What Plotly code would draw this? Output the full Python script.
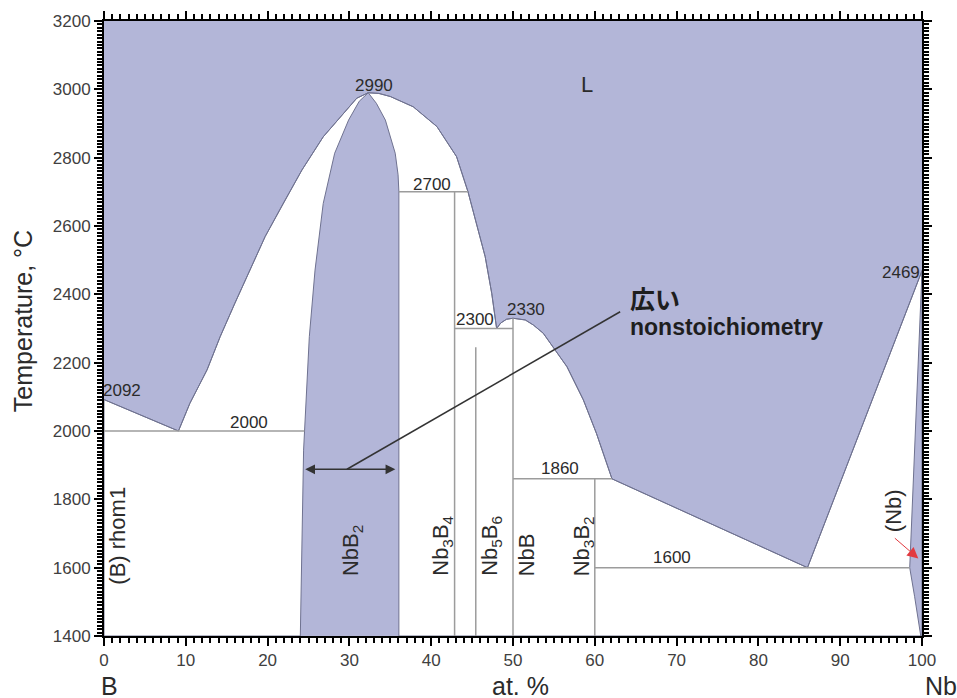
import plotly.graph_objects as go

# ---- B–Nb phase diagram data (composition in at.% Nb, temperature in °C) ----
# Liquidus, from pure B across both congruent maxima to pure Nb
liquidus_x = [0, 9.1, 10.5, 12.6, 14.2, 16.0, 19.7, 21.9, 24.2, 26.8, 29.3, 30.9, 32.3,
              33.6, 35.0, 37.8, 40.7, 43.1, 44.5, 45.6, 46.6, 47.4, 47.8, 48.0,
              48.5, 49.2, 50.0, 51.5, 52.5, 53.7, 56.6, 58.6, 60.2, 61.6, 62.1,
              86.0, 100]
liquidus_T = [2092, 2000, 2081, 2179, 2276, 2374, 2569, 2666, 2764, 2861, 2930, 2974, 2990,
              2988, 2979, 2949, 2891, 2803, 2700, 2598, 2510, 2403, 2325, 2300,
              2316, 2327, 2330, 2325, 2310, 2286, 2188, 2091, 1993, 1896, 1860,
              1600, 2469]

# NbB2 homogeneity range (B-rich side, then Nb-rich side)
nbb2_left_x = [24.0, 24.2, 24.4, 25.1, 25.8, 26.8, 28.2, 29.9, 31.2, 32.3]
nbb2_left_T = [1400, 1700, 1944, 2276, 2471, 2666, 2813, 2910, 2965, 2990]
nbb2_right_x = [32.3, 33.3, 34.4, 35.6, 35.95, 36.05, 36.05]
nbb2_right_T = [2990, 2959, 2910, 2813, 2750, 2700, 1400]

# (Nb) solid solution: solidus and solvus
nb_solidus_x = [100, 98.5]
nb_solidus_T = [2469, 1600]
nb_solvus_x = [98.5, 99.1, 99.7, 99.85]
nb_solvus_T = [1600, 1515, 1420, 1400]

# Invariant reactions: temperature and horizontal extent
invariant_T = [2000, 2700, 2300, 1860, 1600]
invariant_x0 = [0, 36.05, 42.86, 50.0, 60.0]
invariant_x1 = [24.5, 44.5, 50.0, 62.1, 98.5]

# Line compounds: composition and upper temperature limit
compound_names = ["Nb<sub>3</sub>B<sub>4</sub>", "Nb<sub>5</sub>B<sub>6</sub>", "NbB", "Nb<sub>3</sub>B<sub>2</sub>"]
compound_x = [42.86, 45.45, 50.0, 60.0]
compound_top = [2700, 2245, 2330, 1860]

# Temperature labels (value, x, T position)
temp_labels = ["2990", "2700", "2300", "2330", "2092", "2000", "1860", "1600", "2469"]
temp_label_x = [33.0, 40.1, 45.35, 51.6, 2.26, 17.67, 55.7, 69.4, 97.4]
temp_label_T = [3012, 2721, 2325, 2357, 2120, 2026, 1889, 1630, 2464]

x_ticks = list(range(0, 101, 10))
y_ticks = list(range(1400, 3201, 200))

LAV = "#b3b6d8"
EDGE = "#6f7290"
GRID = "#9c9c9c"
FONT = "Liberation Sans, Arial, sans-serif"
TXT = "#2b2b2b"

fig = go.Figure()

# two-phase / single-solid regions below the liquidus
poly_x = [0] + liquidus_x + [100, 0]
poly_T = [1400] + liquidus_T + [1400, 1400]
fig.add_trace(go.Scatter(x=poly_x, y=poly_T, fill="toself", fillcolor="white",
                         mode="lines", line=dict(color=EDGE, width=1), hoverinfo="skip"))

# NbB2 single-phase field
fig.add_trace(go.Scatter(x=nbb2_left_x + nbb2_right_x[1:], y=nbb2_left_T + nbb2_right_T[1:],
                         fill="toself", fillcolor=LAV, mode="lines",
                         line=dict(color=EDGE, width=1), hoverinfo="skip"))

# (Nb) single-phase field
fig.add_trace(go.Scatter(x=nb_solidus_x + nb_solvus_x[1:] + [100, 100],
                         y=nb_solidus_T + nb_solvus_T[1:] + [1400, 2469],
                         fill="toself", fillcolor=LAV, mode="lines",
                         line=dict(color=EDGE, width=1), hoverinfo="skip"))

# liquidus outline on top
fig.add_trace(go.Scatter(x=liquidus_x, y=liquidus_T, mode="lines",
                         line=dict(color=EDGE, width=1), hoverinfo="skip"))

# invariant horizontals
for T, a, b in zip(invariant_T, invariant_x0, invariant_x1):
    fig.add_trace(go.Scatter(x=[a, b], y=[T, T], mode="lines",
                             line=dict(color=GRID, width=1.5), hoverinfo="skip"))

# compound verticals
for cx, top in zip(compound_x, compound_top):
    fig.add_trace(go.Scatter(x=[cx, cx], y=[1400, top], mode="lines",
                             line=dict(color=GRID, width=1.5), hoverinfo="skip"))

# leader line from the NbB2 width arrow to the note
fig.add_trace(go.Scatter(x=[29.7, 63.1], y=[1888, 2349], mode="lines",
                         line=dict(color="#333333", width=1.5), hoverinfo="skip"))

# invisible traces carrying the tick frame on all four sides
fig.add_trace(go.Scatter(x=[0, 100], y=[1400, 3200], xaxis="x2", yaxis="y2",
                         mode="markers", marker=dict(opacity=0), hoverinfo="skip"))
fig.add_trace(go.Scatter(x=[0, 100], y=[1400, 3200], xaxis="x3", yaxis="y3",
                         mode="markers", marker=dict(opacity=0), hoverinfo="skip"))

ann = []
for t, x, y in zip(temp_labels, temp_label_x, temp_label_T):
    ann.append(dict(x=x, y=y, text=t, showarrow=False, xanchor="center", yanchor="middle",
                    font=dict(family=FONT, size=17, color=TXT)))

ann.append(dict(x=59.1, y=3013, text="L", showarrow=False, xanchor="center", yanchor="middle",
                font=dict(family=FONT, size=22, color=TXT)))

# rotated phase names
rot_names = ["(B) rhom1", "NbB<sub>2</sub>"] + compound_names
rot_x = [1.65, 30.4, 41.3, 47.3, 51.7, 58.6]
rot_bottom = [1543, 1570, 1570, 1570, 1570, 1570]
for t, x, y in zip(rot_names, rot_x, rot_bottom):
    ann.append(dict(x=x, y=y, text=t, showarrow=False, textangle=-90,
                    xanchor="center", yanchor="bottom",
                    font=dict(family=FONT, size=22, color=TXT)))

ann.append(dict(x=96.6, y=1766, text="(Nb)", showarrow=False, textangle=-90,
                xanchor="center", yanchor="middle",
                font=dict(family=FONT, size=22, color=TXT)))

# width of the NbB2 field
ann.append(dict(x=24.6, y=1888, ax=35.8, ay=1888, axref="x", ayref="y", text="",
                showarrow=True, arrowside="end+start", arrowhead=2, arrowsize=1.3,
                arrowwidth=1.5, arrowcolor="#333333"))

# pointer to the (Nb) field
ann.append(dict(x=99.55, y=1627, ax=96.5, ay=1690, axref="x", ayref="y", text="",
                showarrow=True, arrowhead=2, arrowsize=2.2, arrowwidth=1,
                arrowcolor="#e23a40"))

ann.append(dict(x=64.06, y=2388, text="<b>広い</b>", showarrow=False,
                xanchor="left", yanchor="middle",
                font=dict(family="Noto Sans CJK JP", size=25, color="#1e1e1e")))
ann.append(dict(x=64.06, y=2304, text="<b>nonstoichiometry</b>", showarrow=False,
                xanchor="left", yanchor="middle",
                font=dict(family=FONT, size=23, color="#1e1e1e")))

# axis titles and end-member labels
paper_txt = dict(xref="paper", yref="paper", showarrow=False,
                 xanchor="center", yanchor="middle")
ann.append(dict(x=-0.099, y=0.512, text="Temperature, °C", textangle=-90,
                font=dict(family=FONT, size=25, color=TXT), **paper_txt))
ann.append(dict(x=0.5086, y=-0.0813, text="at. %",
                font=dict(family=FONT, size=25, color=TXT), **paper_txt))
ann.append(dict(x=0.0073, y=-0.0813, text="B",
                font=dict(family=FONT, size=25, color=TXT), **paper_txt))
ann.append(dict(x=1.0232, y=-0.0813, text="Nb",
                font=dict(family=FONT, size=25, color=TXT), **paper_txt))

tick_font = dict(family=FONT, size=17, color="#404040")
frame = dict(showline=True, linecolor="black", linewidth=2,
             ticks="outside", ticklen=8, tickwidth=2, tickcolor="black",
             showgrid=False, zeroline=False, tickmode="linear")
x_minor = dict(dtick=1, ticklen=5, tickwidth=1.5, tickcolor="black", ticks="outside")
y_minor = dict(dtick=10, ticklen=5, tickwidth=1.5, tickcolor="black", ticks="outside")
x_span = dict(range=[0, 100], tick0=x_ticks[0], dtick=x_ticks[1] - x_ticks[0], minor=x_minor)
y_span = dict(range=[1400, 3200], tick0=y_ticks[0], dtick=y_ticks[1] - y_ticks[0], minor=y_minor)

fig.update_layout(
    width=957, height=698,
    margin=dict(l=104, r=35, t=21, b=62),
    plot_bgcolor=LAV, paper_bgcolor="white",
    showlegend=False,
    annotations=ann,
    xaxis=dict(tickfont=tick_font, **x_span, **frame),
    yaxis=dict(tickfont=tick_font, **y_span, **frame),
    xaxis2=dict(overlaying="x", side="top", anchor="y", showticklabels=False, **x_span, **frame),
    yaxis2=dict(overlaying="y", side="right", anchor="x", showticklabels=False, **y_span, **frame),
    xaxis3=dict(overlaying="x", side="bottom", anchor="y", showticklabels=False, **x_span, **frame),
    yaxis3=dict(overlaying="y", side="left", anchor="x", showticklabels=False, **y_span, **frame),
)

fig.write_html("out.html")
